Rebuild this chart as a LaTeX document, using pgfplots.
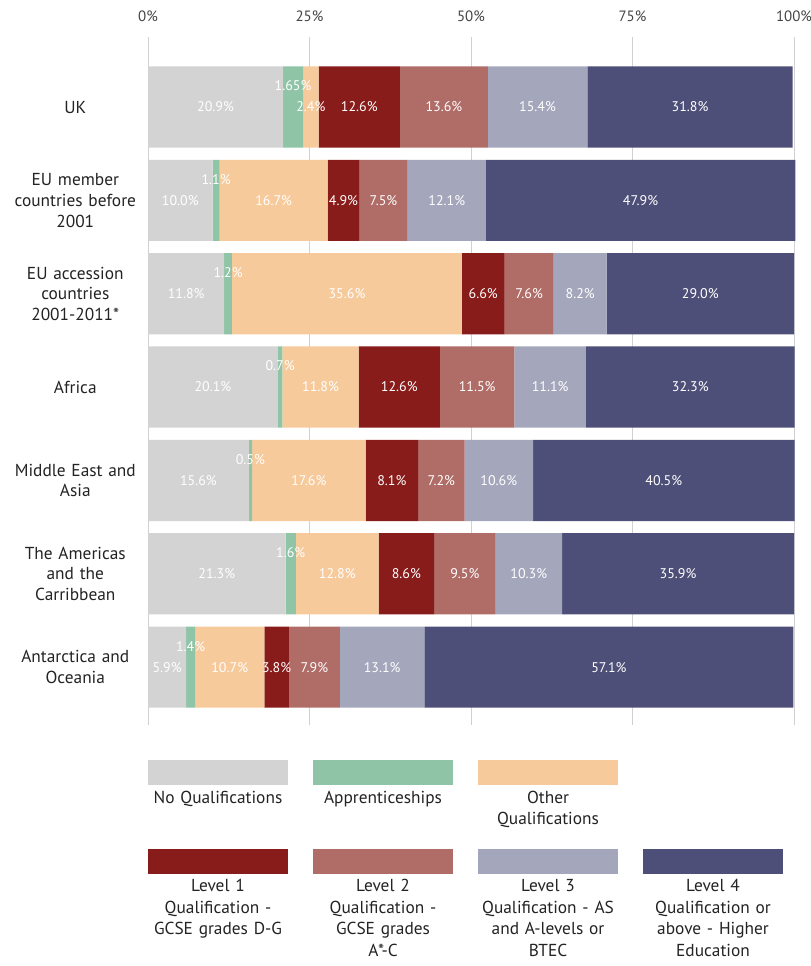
\documentclass[border=0pt]{standalone}
\usepackage{pgfplots}
\pgfplotsset{compat=1.18}
\usepackage{pgfplotstable}
\usepackage{fontspec}
\setmainfont{PT Sans}
\definecolor{cNQ}{RGB}{211,211,211}
\definecolor{cAP}{RGB}{143,196,166}
\definecolor{cOT}{RGB}{247,202,156}
\definecolor{cL1}{RGB}{136,28,26}
\definecolor{cL2}{RGB}{176,108,102}
\definecolor{cL3}{RGB}{164,167,188}
\definecolor{cL4}{RGB}{78,79,120}
\definecolor{txt}{RGB}{35,35,35}

\pgfplotstableread{
y w l
0 20.9 20.9
1 10.0 10.0
2 11.8 11.8
3 20.1 20.1
4 15.6 15.6
5 21.3 21.3
6 5.9 5.9
}\tNQ
\pgfplotstableread{
y w l
0 3.1 1.65
1 1.1 1.1
2 1.2 1.2
3 0.7 0.7
4 0.5 0.5
5 1.6 1.6
6 1.4 1.4
}\tAP
\pgfplotstableread{
y w l
0 2.4 2.4
1 16.7 16.7
2 35.6 35.6
3 11.8 11.8
4 17.6 17.6
5 12.8 12.8
6 10.7 10.7
}\tOT
\pgfplotstableread{
y w l
0 12.6 12.6
1 4.9 4.9
2 6.6 6.6
3 12.6 12.6
4 8.1 8.1
5 8.6 8.6
6 3.8 3.8
}\tLa
\pgfplotstableread{
y w l
0 13.6 13.6
1 7.5 7.5
2 7.6 7.6
3 11.5 11.5
4 7.2 7.2
5 9.5 9.5
6 7.9 7.9
}\tLb
\pgfplotstableread{
y w l
0 15.4 15.4
1 12.1 12.1
2 8.2 8.2
3 11.1 11.1
4 10.6 10.6
5 10.3 10.3
6 13.1 13.1
}\tLc
\pgfplotstableread{
y w l
0 31.8 31.8
1 47.9 47.9
2 29.0 29.0
3 32.3 32.3
4 40.5 40.5
5 35.9 35.9
6 57.1 57.1
}\tLd

\pgfplotsset{
  seg/.style={draw=none, fill=#1,
    point meta=explicit symbolic,
    nodes near coords={\pgfplotspointmeta\%},
    every node near coord/.append style={anchor=center,
      text=white, inner sep=0pt,
      font=\fontsize{10.5}{12}\selectfont}},
}
\newcommand\lgfont{\fontsize{13}{15.5}\selectfont}
\newcommand\lgfontb{\fontsize{13}{16.2}\selectfont}

\begin{document}
\begin{tikzpicture}
\path[use as bounding box] (0pt,0pt) rectangle (607.5pt,-724.5pt);
\begin{axis}[
  at={(111pt,-27.75pt)}, anchor=north west,
  scale only axis, width=484.5pt, height=516pt,
  xbar stacked, bar width=0.87,
  xmin=0, xmax=100, ymin=-0.75, ymax=6.62, y dir=reverse,
  enlarge x limits=false, enlarge y limits=false,
  axis line style={draw=none}, tick style={draw=none},
  major tick length=0pt,
  xtick={0,25,50,75,100},
  xticklabels={0\%,25\%,50\%,75\%,100\%\hspace{5pt}},
  xticklabel pos=upper,
  xticklabel style={font=\fontsize{11.2}{13}\selectfont, text=txt!85, yshift=8pt},
  xmajorgrids, grid style={draw=black!18, line width=0.6pt},
  ytick={0,...,6},
  yticklabels={UK,{EU member\\countries before\\2001},{EU accession\\countries\\2001-2011*},Africa,{Middle East and\\Asia},{The Americas\\and the\\Carribbean},{Antarctica and\\Oceania}},
  yticklabel style={align=center, text width=100pt, text=txt, font=\lgfont, xshift=-1pt},
  clip=false,
]
\addplot[seg=cNQ] table[x=w, y=y, meta=l] {\tNQ};
\addplot[seg=cAP, every node near coord/.append style={yshift=15.75pt}] table[x=w, y=y, meta=l] {\tAP};
\addplot[seg=cOT] table[x=w, y=y, meta=l] {\tOT};
\addplot[seg=cL1] table[x=w, y=y, meta=l] {\tLa};
\addplot[seg=cL2] table[x=w, y=y, meta=l] {\tLb};
\addplot[seg=cL3] table[x=w, y=y, meta=l] {\tLc};
\addplot[seg=cL4] table[x=w, y=y, meta=l] {\tLd};
\end{axis}
\begin{scope}[x=0.75pt, y=-0.75pt]
\fill[cNQ] (148,760) rectangle (288,785);
\fill[cAP] (313,760) rectangle (453,785);
\fill[cOT] (478,760) rectangle (618,785);
\fill[cL1] (148,849) rectangle (288,874);
\fill[cL2] (313,849) rectangle (453,874);
\fill[cL3] (478,849) rectangle (618,874);
\fill[cL4] (643,849) rectangle (783,874);
\tikzset{lg/.style={anchor=north, align=center, text width=120pt, text=txt, font=\lgfont, inner sep=0pt}}
\tikzset{lgb/.style={anchor=north, align=center, text width=120pt, text=txt, font=\lgfontb, inner sep=0pt}}
\node[lg] at (218,791) {No Qualifications};
\node[lg] at (383,791) {Apprenticeships};
\node[lg] at (548,791) {Other\\Qualifications};
\node[lgb] at (218,879) {Level 1\\Qualification -\\GCSE grades D-G};
\node[lgb] at (383,879) {Level 2\\Qualification -\\GCSE grades\\A*-C};
\node[lgb] at (548,879) {Level 3\\Qualification - AS\\and A-levels or\\BTEC};
\node[lgb] at (713,879) {Level 4\\Qualification or\\above - Higher\\Education};
\end{scope}
\end{tikzpicture}
\end{document}
